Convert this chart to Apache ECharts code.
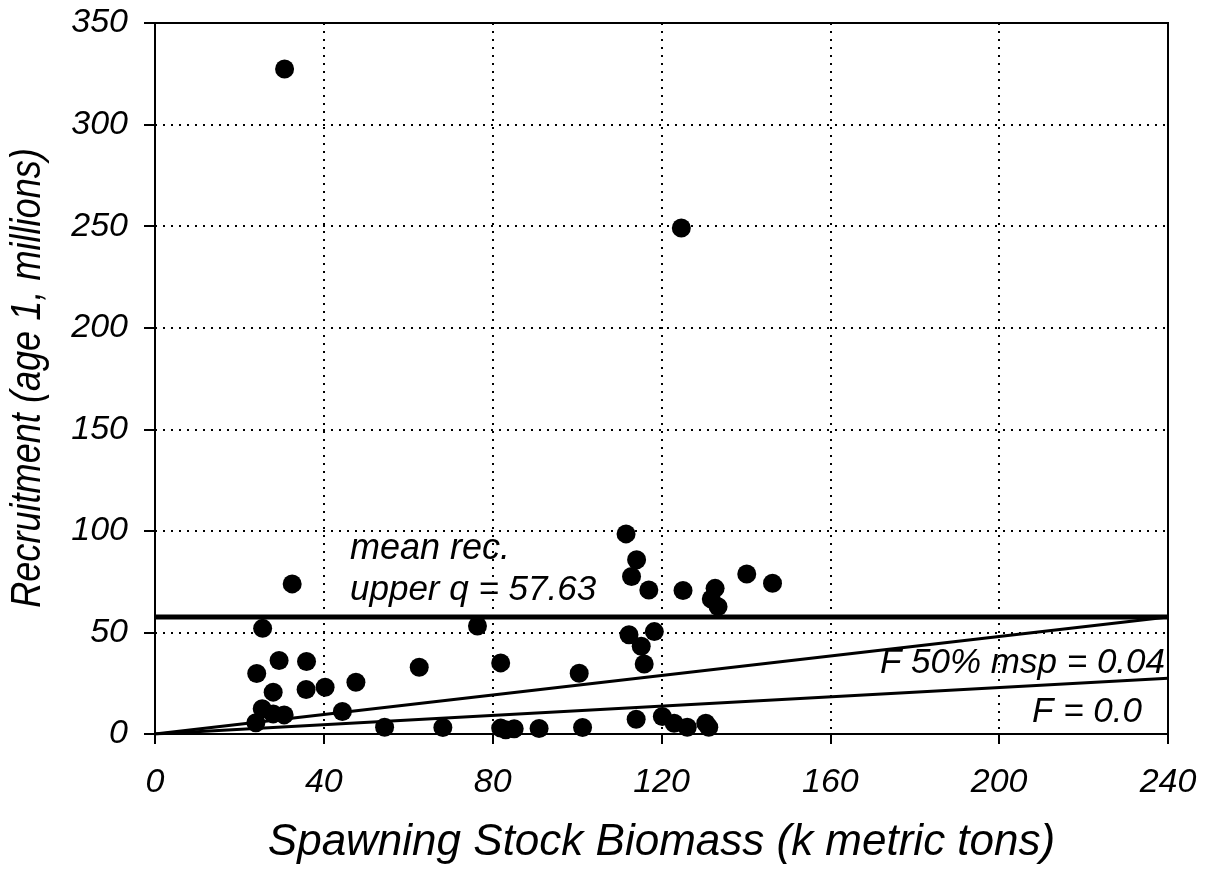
<!DOCTYPE html>
<html><head><meta charset="utf-8">
<script src="https://cdn.jsdelivr.net/npm/echarts@6/dist/echarts.min.js"></script>
<style>html,body{margin:0;padding:0;background:#fff}#c{width:1208px;height:870px}</style>
</head><body><div id="c"></div>
<script>
const ssb = [30.7,124.7,32.5,25.5,76.4,29.4,35.9,24.1,62.6,81.9,28.0,35.8,40.3,47.6,25.4,28.0,30.6,23.9,44.4,54.4,68.2,81.9,85.1,
  111.6,114.1,112.9,117.0,125.1,132.7,131.8,133.4,140.2,146.3,112.3,118.3,115.2,115.9,100.5,114.0,120.2,123.0,126.1,130.5,131.2,101.3,91.0,83.1];
const rec = [327.4,249.1,73.9,52.0,53.2,36.2,35.7,29.8,32.9,35.0,20.6,21.9,23.0,25.5,12.4,9.9,9.4,5.5,11.1,3.3,3.2,2.9,2.6,
  98.5,85.8,77.5,70.9,70.6,71.7,66.5,62.7,78.8,74.2,48.9,50.4,43.2,34.5,29.9,7.3,8.6,5.3,3.3,5.3,3.3,3.2,2.7,2.1];
const meanRecUpperQ = 57.63;
const lineMsp = [[0,0],[240,57.63]];
const lineF0 = [[0,0],[240,27.5]];
const xTitle = 'Spawning Stock Biomass (k metric tons)';
const yTitle = 'Recruitment (age 1, millions)';

const pts = ssb.map((x,i)=>[x,rec[i]]);
const font = 'Liberation Sans';
const chart = echarts.init(document.getElementById('c'));
chart.setOption({
  animation:false,
  backgroundColor:'#fff',
  grid:{left:155,right:40,top:23,bottom:136,show:true,borderColor:'#000',borderWidth:2,backgroundColor:'transparent'},
  xAxis:{type:'value',min:0,max:240,interval:40,
    axisLine:{show:true,lineStyle:{color:'#000',width:2}},
    axisTick:{show:true,length:10,inside:false,lineStyle:{color:'#000',width:2}},
    axisLabel:{fontFamily:font,fontStyle:'italic',fontSize:34,color:'#000',margin:32},
    splitLine:{show:true,lineStyle:{color:'#000',type:[2,6],width:2}},
    name:xTitle,nameLocation:'middle',nameGap:87,
    nameTextStyle:{fontFamily:font,fontStyle:'italic',fontSize:44,color:'#000'}},
  yAxis:{type:'value',min:0,max:350,interval:50,
    axisLine:{show:true,lineStyle:{color:'#000',width:2}},
    axisTick:{show:true,length:11,lineStyle:{color:'#000',width:2}},
    axisLabel:{fontFamily:font,fontStyle:'italic',fontSize:34,color:'#000',margin:27},
    splitLine:{show:true,lineStyle:{color:'#000',type:[2,6],width:2}}},
  series:[
    {type:'line',data:[[0,meanRecUpperQ],[240,meanRecUpperQ]],symbol:'none',lineStyle:{color:'#000',width:5},z:3},
    {type:'line',data:lineMsp,symbol:'none',lineStyle:{color:'#000',width:3},z:3},
    {type:'line',data:lineF0,symbol:'none',lineStyle:{color:'#000',width:3},z:3},
    {type:'scatter',data:pts,symbol:'circle',symbolSize:19,itemStyle:{color:'#000',opacity:1},z:4}
  ],
  graphic:[
    {type:'text',x:28,y:378,rotation:Math.PI/2,scaleX:0.86,z:10,style:{text:yTitle,fontFamily:font,fontStyle:'italic',fontSize:42,fill:'#000',align:'center',verticalAlign:'middle'}},
    {type:'text',x:350,y:549,z:10,style:{text:'mean rec.',fontFamily:font,fontStyle:'italic',fontSize:36,fill:'#000',align:'left',verticalAlign:'middle'}},
    {type:'text',x:350,y:590,z:10,style:{text:'upper q = 57.63',fontFamily:font,fontStyle:'italic',fontSize:35,fill:'#000',align:'left',verticalAlign:'middle'}},
    {type:'text',x:1165,y:663,z:10,style:{text:'F 50% msp = 0.04',fontFamily:font,fontStyle:'italic',fontSize:35,fill:'#000',align:'right',verticalAlign:'middle'}},
    {type:'text',x:1142,y:712,z:10,style:{text:'F = 0.0',fontFamily:font,fontStyle:'italic',fontSize:35,fill:'#000',align:'right',verticalAlign:'middle'}}
  ]
});
</script></body></html>
